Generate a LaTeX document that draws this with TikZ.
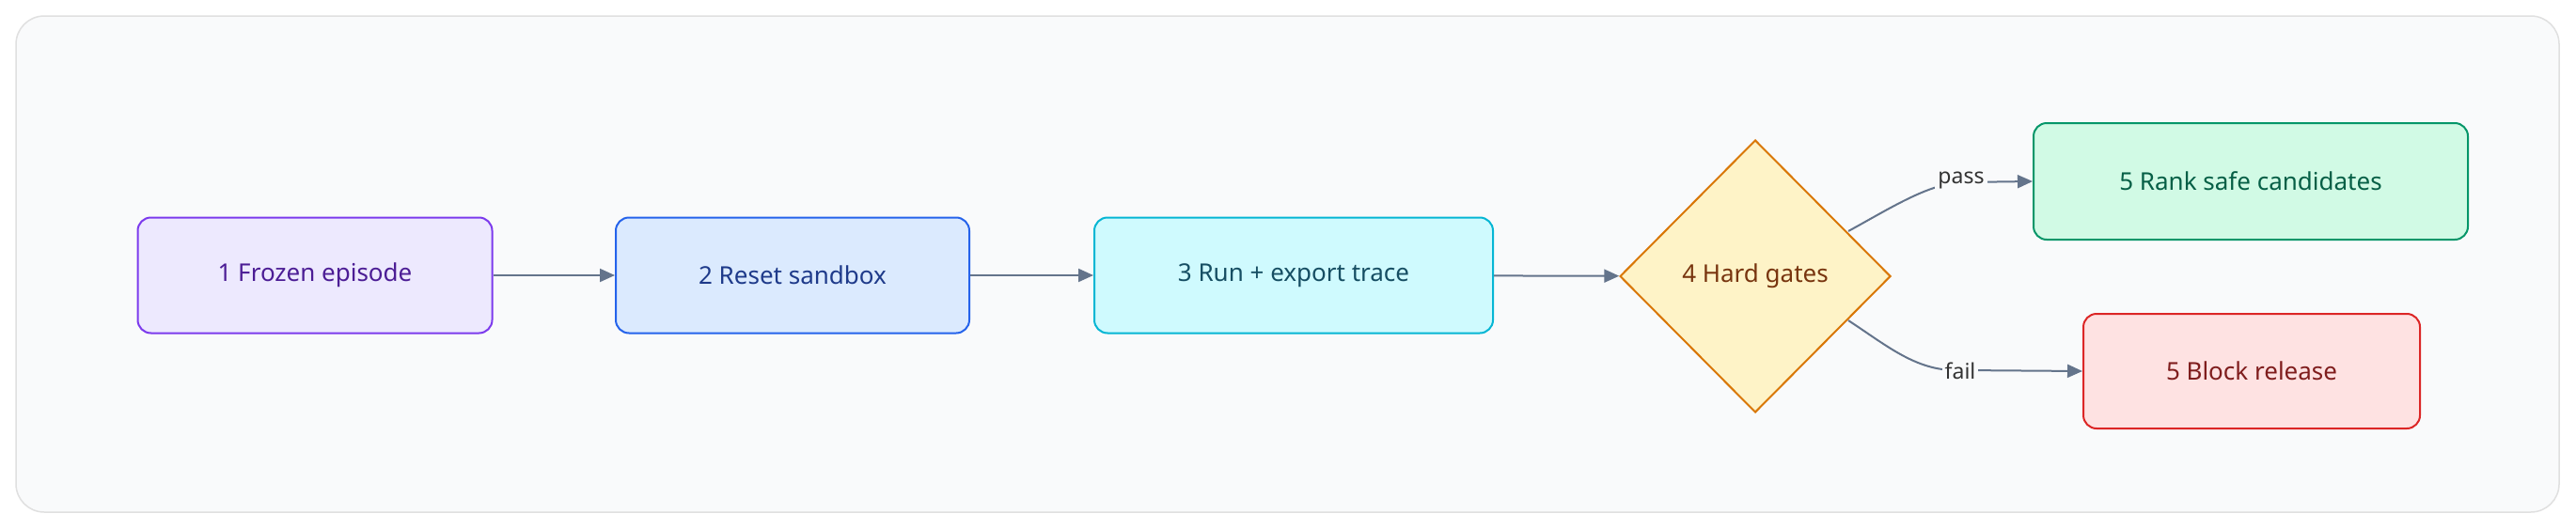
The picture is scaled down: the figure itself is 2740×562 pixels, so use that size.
\documentclass[tikz,border=0pt]{standalone}
\usepackage{fontspec}
\setmainfont{Noto Sans}
\usetikzlibrary{shapes.geometric,arrows.meta}
\definecolor{edge}{HTML}{64748B}
\definecolor{f1}{HTML}{EDE9FE}\definecolor{d1}{HTML}{7C3AED}\definecolor{t1}{HTML}{4C1D95}
\definecolor{f2}{HTML}{DBEAFE}\definecolor{d2}{HTML}{2563EB}\definecolor{t2}{HTML}{1E3A8A}
\definecolor{f3}{HTML}{CFFAFE}\definecolor{d3}{HTML}{06B6D4}\definecolor{t3}{HTML}{164E63}
\definecolor{f4}{HTML}{FEF3C7}\definecolor{d4}{HTML}{D97706}\definecolor{t4}{HTML}{78350F}
\definecolor{f5}{HTML}{D1FAE5}\definecolor{d5}{HTML}{059669}\definecolor{t5}{HTML}{065F46}
\definecolor{f6}{HTML}{FEE2E2}\definecolor{d6}{HTML}{DC2626}\definecolor{t6}{HTML}{7F1D1D}
\definecolor{bg}{HTML}{F9FAFB}
\begin{document}
\begin{tikzpicture}[x=1pt,y=-1pt,
  every node/.style={font=\fontsize{26}{31}\selectfont},
  box/.style={draw,line width=2pt,rounded corners=14pt,minimum height=123pt,align=center},
  arr/.style={draw=edge,line width=2pt,-{Triangle[length=16pt,width=14pt]}},
  lab/.style={fill=bg,inner sep=3pt,text=black!80,font=\fontsize{23}{27}\selectfont}]
\useasboundingbox (0,0) rectangle (2740,562);
\fill[white] (0,0) rectangle (2740,562);
\draw[draw=black!12,fill=bg,line width=1.5pt,rounded corners=30pt] (17,17) rectangle (2722,545);
\node[box,fill=f1,draw=d1,text=t1,minimum width=377pt] (n1) at (335,293) {1 Frozen episode};
\node[box,fill=f2,draw=d2,text=t2,minimum width=376pt] (n2) at (843,293) {2 Reset sandbox};
\node[box,fill=f3,draw=d3,text=t3,minimum width=424pt] (n3) at (1376,293) {3 Run + export trace};
\node[diamond,draw=d4,fill=f4,text=t4,line width=2pt,minimum width=288pt,minimum height=290pt,inner sep=0pt] (n4) at (1867,294) {4 Hard gates};
\node[box,fill=f5,draw=d5,text=t5,minimum width=462pt,minimum height=124pt] (n5) at (2394,193) {5 Rank safe candidates};
\node[box,fill=f6,draw=d6,text=t6,minimum width=358pt,minimum height=122pt] (n6) at (2395,395) {5 Block release};
\draw[arr] (n1) -- (n2);
\draw[arr] (n2) -- (n3);
\draw[arr] (n3) -- (n4);
\coordinate (p) at (2086,194);
\coordinate (f) at (2086,394);
\coordinate (ps) at (1966,246);
\coordinate (fs) at (1966,341);
\draw[arr] (ps) .. controls (2010,222) and (2050,196) .. (p) -- (n5.west);
\draw[arr] (fs) .. controls (2010,370) and (2040,396) .. (f) -- (n6.west);
\node[lab] (lp) at (2086,192) {pass};
\node[lab,minimum height=60pt] (lf) at (2085,395) {fail};
\end{tikzpicture}
\end{document}
